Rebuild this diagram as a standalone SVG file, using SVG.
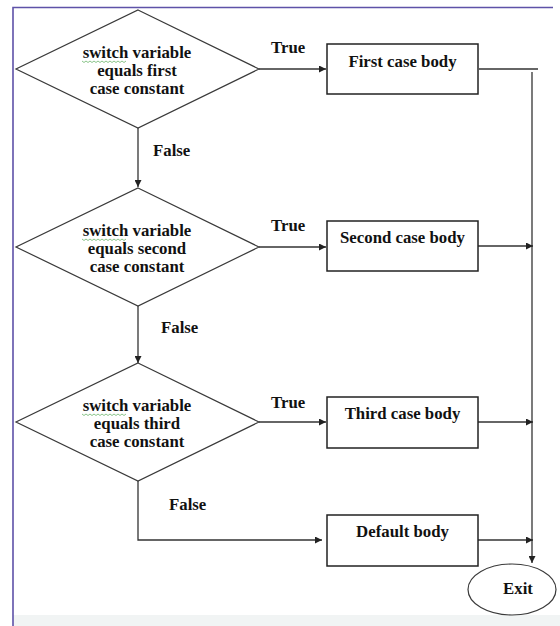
<svg xmlns="http://www.w3.org/2000/svg" width="560" height="626" viewBox="0 0 560 626">
<style>
.t{font-family:"Liberation Serif","Times New Roman",serif;font-weight:bold;font-size:16.8px;fill:#111}
.c{text-anchor:middle}
.shape{fill:#fff;stroke:#3a3a3a;stroke-width:1.2}
.box{fill:#fff;stroke:#222;stroke-width:1.5}
.ln{fill:none;stroke:#333;stroke-width:1.3}
.sq{fill:none;stroke:#6cb56c;stroke-width:0.8}
</style>
<defs>
<marker id="ah" viewBox="0 0 10 10" refX="10" refY="5" markerWidth="8" markerHeight="7" markerUnits="userSpaceOnUse" orient="auto">
<path d="M0,0 L10,5 L0,10 z" fill="#222"/>
</marker>
</defs>
<rect x="0" y="0" width="560" height="626" fill="#fff"/>
<rect x="13" y="615" width="547" height="11" fill="#f1f4f4"/>
<g id="frame" fill="none" stroke="#5e52a8" stroke-width="1.6">
<path d="M13,626 L13,7.5 L553,7.5"/>
</g>
<g id="connectors">
<path class="ln" d="M259,69 L326,69" marker-end="url(#ah)"/>
<path class="ln" d="M479,69 L538,69"/>
<path class="ln" d="M532,72 L532,563" marker-end="url(#ah)"/>
<path class="ln" d="M138,128 L138,187" marker-end="url(#ah)"/>
<path class="ln" d="M259,247 L326,247" marker-end="url(#ah)"/>
<path class="ln" d="M478,246 L533,246" marker-end="url(#ah)"/>
<path class="ln" d="M138,306 L138,363" marker-end="url(#ah)"/>
<path class="ln" d="M259,422 L326,422" marker-end="url(#ah)"/>
<path class="ln" d="M478,422 L533,422" marker-end="url(#ah)"/>
<path class="ln" d="M138,481 L138,540 L322,540" marker-end="url(#ah)"/>
<path class="ln" d="M478,540 L533,540" marker-end="url(#ah)"/>
<text class="t" x="271" y="53">True</text>
<text class="t" x="271" y="231">True</text>
<text class="t" x="271" y="408">True</text>
<text class="t" x="153" y="156">False</text>
<text class="t" x="161" y="333">False</text>
<text class="t" x="169" y="510">False</text>
</g>
<g id="decision1">
<polygon class="shape" points="138,10 259,69 138,128 16,69"/>
<text class="t c" x="137" y="58">switch variable</text>
<text class="t c" x="137" y="76">equals first</text>
<text class="t c" x="137" y="94">case constant</text>
<path class="sq" d="M82,61 l2,1.5 l2,-1.5 l2,1.5 l2,-1.5 l2,1.5 l2,-1.5 l2,1.5 l2,-1.5 l2,1.5 l2,-1.5 l2,1.5 l2,-1.5 l2,1.5 l2,-1.5 l2,1.5 l2,-1.5 l2,1.5 l2,-1.5 l2,1.5 l2,-1.5 l2,1.5 l2,-1.5"/>
</g>
<g id="decision2">
<polygon class="shape" points="138,188 259,247 138,306 16,247"/>
<text class="t c" x="137" y="236">switch variable</text>
<text class="t c" x="137" y="254">equals second</text>
<text class="t c" x="137" y="272">case constant</text>
<path class="sq" d="M82,239 l2,1.5 l2,-1.5 l2,1.5 l2,-1.5 l2,1.5 l2,-1.5 l2,1.5 l2,-1.5 l2,1.5 l2,-1.5 l2,1.5 l2,-1.5 l2,1.5 l2,-1.5 l2,1.5 l2,-1.5 l2,1.5 l2,-1.5 l2,1.5 l2,-1.5 l2,1.5 l2,-1.5"/>
</g>
<g id="decision3">
<polygon class="shape" points="138,363 259,422 138,481 16,422"/>
<text class="t c" x="137" y="411">switch variable</text>
<text class="t c" x="137" y="429">equals third</text>
<text class="t c" x="137" y="447">case constant</text>
<path class="sq" d="M82,414 l2,1.5 l2,-1.5 l2,1.5 l2,-1.5 l2,1.5 l2,-1.5 l2,1.5 l2,-1.5 l2,1.5 l2,-1.5 l2,1.5 l2,-1.5 l2,1.5 l2,-1.5 l2,1.5 l2,-1.5 l2,1.5 l2,-1.5 l2,1.5 l2,-1.5 l2,1.5 l2,-1.5"/>
</g>
<g id="case1">
<rect class="box" x="327" y="44" width="151" height="50"/>
<text class="t c" x="402.5" y="67">First case body</text>
</g>
<g id="case2">
<rect class="box" x="327" y="221" width="151" height="50"/>
<text class="t c" x="402.5" y="243">Second case body</text>
</g>
<g id="case3">
<rect class="box" x="327" y="397" width="151" height="51"/>
<text class="t c" x="402.5" y="419">Third case body</text>
</g>
<g id="default">
<rect class="box" x="327" y="515" width="151" height="51"/>
<text class="t c" x="402.5" y="537">Default body</text>
</g>
<g id="exit">
<ellipse class="shape" cx="512" cy="589.5" rx="44" ry="25.5"/>
<text class="t c" x="518" y="594">Exit</text>
</g>
</svg>
